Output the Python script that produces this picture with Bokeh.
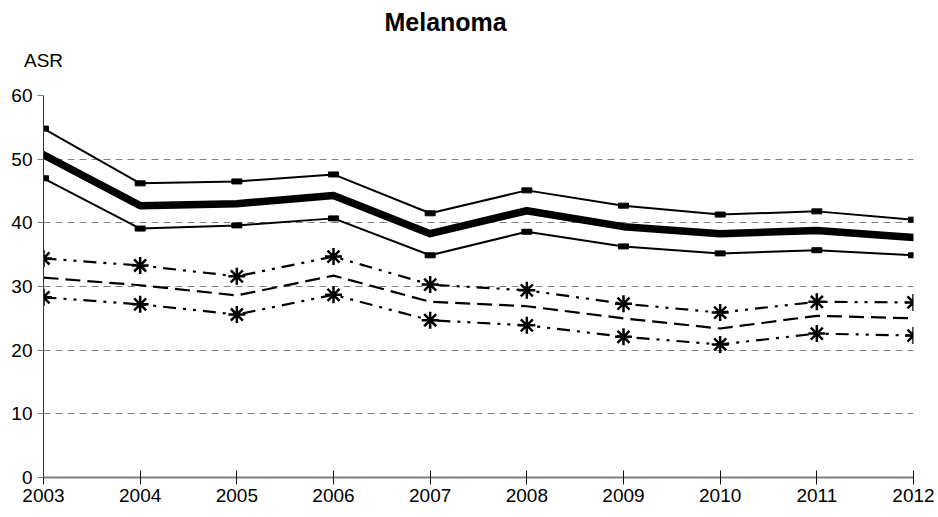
from bokeh.plotting import figure
from bokeh.models import Range1d, FixedTicker, LinearAxis
from bokeh.embed import file_html
from bokeh.resources import INLINE

years = [2003, 2004, 2005, 2006, 2007, 2008, 2009, 2010, 2011, 2012]
asr_main = [50.7, 42.7, 43.0, 44.3, 38.3, 41.9, 39.4, 38.3, 38.8, 37.7]
asr_main_hi = [54.8, 46.2, 46.5, 47.6, 41.5, 45.1, 42.7, 41.3, 41.8, 40.5]
asr_main_lo = [47.0, 39.1, 39.6, 40.7, 34.9, 38.6, 36.3, 35.2, 35.7, 34.9]
asr_second = [31.4, 30.2, 28.6, 31.7, 27.6, 26.9, 25.0, 23.4, 25.4, 25.0]
asr_second_hi = [34.4, 33.3, 31.6, 34.7, 30.3, 29.4, 27.3, 25.9, 27.6, 27.5]
asr_second_lo = [28.3, 27.2, 25.6, 28.7, 24.7, 23.9, 22.1, 20.9, 22.6, 22.3]
y_ticks = [0, 10, 20, 30, 40, 50, 60]
title_text = "Melanoma"
y_label = "ASR"

FONT = "Liberation Sans"
# horizontal anchor of the heading (slightly left of the plot centre)
TITLE_ANCHOR = 2007.16

p = figure(width=936, height=515, output_backend="svg", toolbar_location=None,
           title=None,
           x_range=Range1d(years[0], years[-1]),
           y_range=Range1d(y_ticks[0], y_ticks[-1]),
           min_border_left=43, min_border_right=23, min_border_top=95,
           min_border_bottom=38)
p.outline_line_color = None
p.background_fill_color = "white"
p.border_fill_color = "white"

# grid
p.xgrid.grid_line_color = None
p.ygrid.ticker = FixedTicker(ticks=y_ticks[1:])
p.ygrid.grid_line_color = "#808080"
p.ygrid.grid_line_dash = "7 5"
p.ygrid.grid_line_width = 1

# axes
p.xaxis.ticker = FixedTicker(ticks=years)
p.yaxis.ticker = FixedTicker(ticks=y_ticks)
for ax in (p.xaxis[0], p.yaxis[0]):
    ax.major_label_text_font = FONT
    ax.major_label_text_font_size = "19px"
    ax.major_label_text_color = "black"
    ax.minor_tick_line_color = None
p.xaxis.axis_line_color = "#808080"
p.xaxis.axis_line_width = 2
p.xaxis.major_tick_line_color = "#111111"
p.xaxis.major_tick_line_width = 1
p.xaxis.major_tick_in = 7
p.xaxis.major_tick_out = 7
p.xaxis.major_label_standoff = 4
p.yaxis.axis_line_color = "#333333"
p.yaxis.axis_line_width = 1
p.yaxis.major_tick_in = 0
p.yaxis.major_tick_out = 6
p.yaxis.major_tick_line_color = "#808080"
p.yaxis.major_label_standoff = 5

# main series
p.line(years, asr_main, line_color="black", line_width=7.5,
       line_cap="round", line_join="round")
for ci in (asr_main_hi, asr_main_lo):
    p.line(years, ci, line_color="black", line_width=2)
    p.rect(years, ci, width=10, height=5, width_units="screen",
           height_units="screen", fill_color="black", line_color="black")

# second series
p.line(years, asr_second, line_color="black", line_width=2.2, line_dash="15 7")
for ci in (asr_second_hi, asr_second_lo):
    p.line(years, ci, line_color="black", line_width=2.2, line_dash="13 7 3 7 3 7")
    p.scatter(years, ci, marker="asterisk", size=17, line_color="black",
              line_width=2.5)


def text_axis(anchor, label, size, style, standoff):
    """A bare axis above the plot that only carries one text label."""
    return LinearAxis(ticker=FixedTicker(ticks=[anchor]),
                      major_label_overrides={anchor: label},
                      axis_line_color=None, major_tick_line_color=None,
                      minor_tick_line_color=None,
                      major_tick_in=0, major_tick_out=0,
                      major_label_standoff=standoff,
                      major_label_text_font=FONT,
                      major_label_text_font_size=size,
                      major_label_text_font_style=style,
                      major_label_text_color="black")


# "ASR" unit label just above the value axis, heading further out
p.add_layout(text_axis(years[0], y_label, "19px", "normal", 25), "above")
p.add_layout(text_axis(TITLE_ANCHOR, title_text, "25px", "bold", 11), "above")

open("out.html", "w").write(file_html(p, INLINE))
